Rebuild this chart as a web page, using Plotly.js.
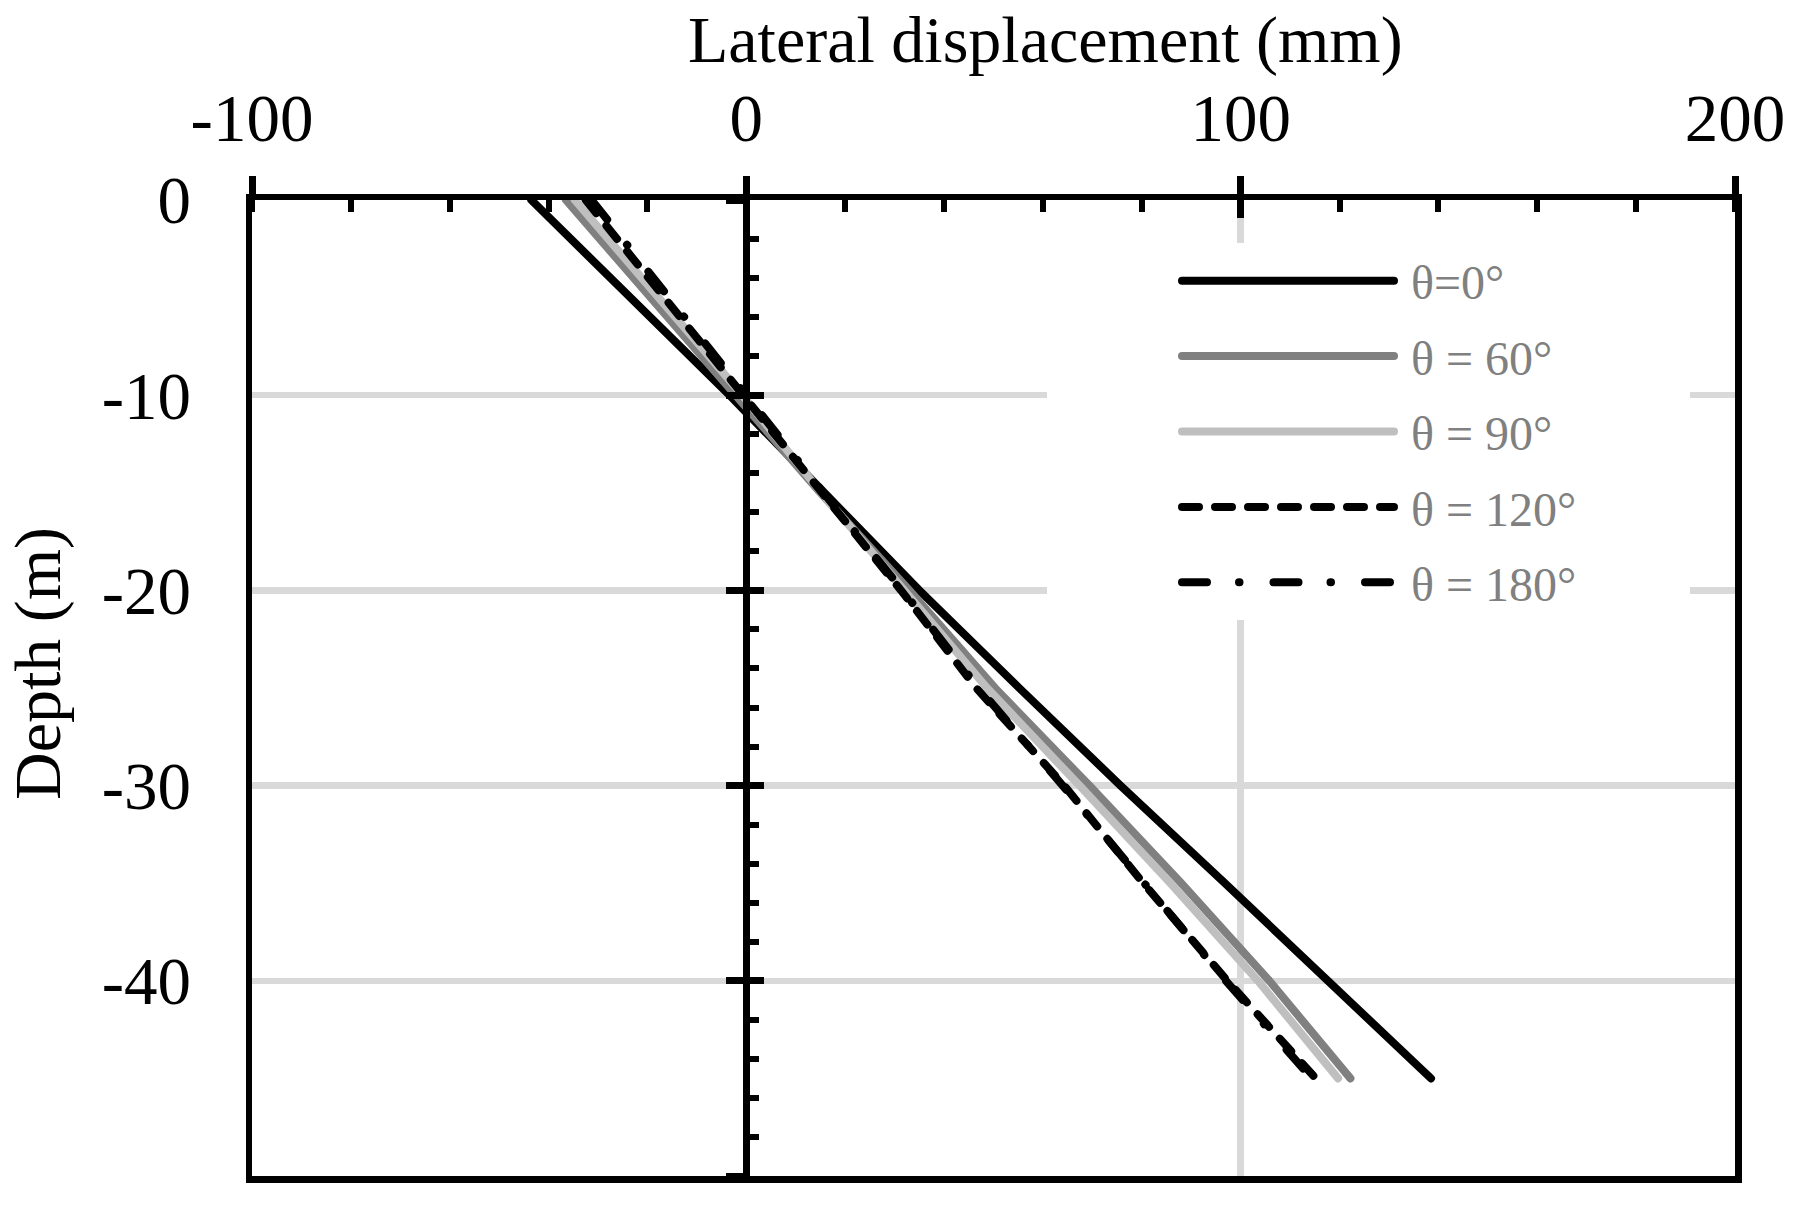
<!DOCTYPE html>
<html><head><meta charset="utf-8">
<script src="https://cdn.plot.ly/plotly-3.0.1.min.js"></script>
<style>
body{margin:0;background:#fff;}
#chart .scatterlayer .js-line, #chart .legend .js-line {stroke-linecap: round; stroke-linejoin: round;}
</style></head><body>
<div id="chart" style="width:1793px;height:1206px;"></div>
<script>
// Depth (m)
const depth = [0, -5, -10, -15, -20, -25, -30, -35, -40, -45];
// Lateral displacement (mm) for each angle
const disp0   = [-43.5, -23.2, -3.4, 15.8, 35.0, 55.2, 75.7, 96.8, 117.4, 138.5];
const disp60  = [-36.5, -19.3, -1.8, 15.0, 33.0, 50.3, 69.4, 88.0, 105.8, 122.2];
const disp90  = [-34.7, -17.9, -0.8, 15.2, 32.0, 48.7, 67.4, 85.8, 103.5, 119.7];
const disp120 = [-32.5, -16.4, -0.3, 15.3, 31.3, 46.5, 64.3, 80.3, 97.3, 115.2];
const disp180 = [-31.3, -15.8, 0.2, 15.6, 31.6, 47.0, 64.0, 80.6, 97.0, 114.4];
const names = ['θ=0°', 'θ = 60°', 'θ = 90°', 'θ = 120°', 'θ = 180°'];
const xTicks = [-100, 0, 100, 200];
const yTicks = [0, -10, -20, -30, -40, -50];

const FONT = 'Liberation Serif, Times New Roman, serif';
const W = 1793, H = 1206;
const ML = 252, MR = 58, MT = 200, MB = 30;
const PW = W - ML - MR, PH = H - MT - MB;
const px2x = p => (p - ML) / PW;
const px2y = p => (H - MB - p) / PH;
const NB = '\u00a0';

const series = [
  {x: disp0,   color: '#000000', dash: 'solid'},
  {x: disp60,  color: '#808080', dash: 'solid'},
  {x: disp90,  color: '#bfbfbf', dash: 'solid'},
  {x: disp120, color: '#000000', dash: '17px,16px'},
  {x: disp180, color: '#000000', dash: '25px,32px,0.5px,34px'}
];
const padRight = [0, 0, 0, 9, 9];
const traces = series.map((s, i) => ({
  type: 'scatter', mode: 'lines', x: s.x, y: depth,
  name: NB + names[i] + NB.repeat(padRight[i]),
  line: {color: s.color, width: 8, dash: s.dash},
  legendgroup: 'g' + i, hoverinfo: 'skip'
}));
// helper (empty) traces so the overlaid axes at x = 0 and the crossing ticks are drawn
const axisHelpers = [
  {xaxis: 'x', yaxis: 'y2'}, {xaxis: 'x', yaxis: 'y3'}, {xaxis: 'x2', yaxis: 'y'}
].map(a => ({type: 'scatter', mode: 'lines', x: [null], y: [null], xaxis: a.xaxis, yaxis: a.yaxis,
             showlegend: false, hoverinfo: 'skip', line: {width: 0}}));

const layout = {
  width: W, height: H,
  margin: {l: ML, r: MR, t: MT, b: MB, pad: 0},
  paper_bgcolor: '#ffffff', plot_bgcolor: '#ffffff',
  font: {family: FONT, size: 66, color: '#000000'},
  showlegend: true,
  xaxis: {
    range: [-100, 200], side: 'top', anchor: 'y',
    tickmode: 'array', tickvals: xTicks, ticktext: xTicks.map(String),
    ticks: 'outside', ticklen: 18, tickwidth: 7, tickcolor: '#000',
    showline: true, linewidth: 6.5, linecolor: '#000', mirror: true,
    showgrid: true, gridcolor: '#d9d9d9', gridwidth: 6.5, zeroline: false,
    tickfont: {size: 67, family: FONT, color: '#000'}, ticklabelstandoff: 8,
    minor: {dtick: 20, tick0: 0, ticks: 'inside', ticklen: 12, tickwidth: 6, tickcolor: '#000', showgrid: false},
    fixedrange: true
  },
  xaxis2: {
    overlaying: 'x', side: 'top', anchor: 'y', range: [-100, 200],
    tickmode: 'array', tickvals: xTicks,
    ticks: 'inside', ticklen: 18, tickwidth: 7, tickcolor: '#000',
    showticklabels: false, showgrid: false, zeroline: false, showline: false, fixedrange: true
  },
  yaxis: {
    range: [-50, 0], side: 'left', anchor: 'x',
    tickmode: 'array', tickvals: yTicks, ticktext: yTicks.map(String),
    ticks: '', showline: true, linewidth: 6.5, linecolor: '#000', mirror: true,
    showgrid: true, gridcolor: '#d9d9d9', gridwidth: 6.5, zeroline: false,
    tickfont: {size: 67, family: FONT, color: '#000'},
    ticklabelstandoff: 41, fixedrange: true
  },
  yaxis2: {
    overlaying: 'y', anchor: 'free', position: 1/3, side: 'left', range: [-50, 0],
    tickmode: 'array', tickvals: yTicks,
    ticks: 'outside', ticklen: 17, tickwidth: 7, tickcolor: '#000',
    showline: true, linewidth: 7, linecolor: '#000',
    showticklabels: false, showgrid: false, zeroline: false, fixedrange: true
  },
  yaxis3: {
    overlaying: 'y', anchor: 'free', position: 1/3, side: 'left', range: [-50, 0],
    tickmode: 'array', tickvals: yTicks,
    ticks: 'inside', ticklen: 17, tickwidth: 7, tickcolor: '#000',
    showline: false, showticklabels: false, showgrid: false, zeroline: false, fixedrange: true,
    minor: {dtick: 2, tick0: 0, ticks: 'inside', ticklen: 12, tickwidth: 6, tickcolor: '#000', showgrid: false}
  },
  legend: {
    x: px2x(1047), y: px2y(243), xref: 'paper', yref: 'paper',
    xanchor: 'left', yanchor: 'top',
    bgcolor: '#ffffff', bordercolor: '#ffffff', borderwidth: 0,
    font: {size: 48, family: FONT, color: '#808080'},
    title: {text: NB.repeat(10), side: 'left', font: {size: 48, family: FONT, color: '#808080'}},
    itemwidth: 212, tracegroupgap: 10
  },
  annotations: [
    {text: 'Lateral displacement (mm)', xref: 'paper', yref: 'paper',
     x: px2x(1045), y: px2y(40), xanchor: 'center', yanchor: 'middle',
     showarrow: false, font: {size: 66, family: FONT, color: '#000'}},
    {text: 'Depth (m)', xref: 'paper', yref: 'paper', textangle: -90,
     x: px2x(38), y: px2y(664), xanchor: 'center', yanchor: 'middle',
     showarrow: false, font: {size: 66, family: FONT, color: '#000'}}
  ]
};

Plotly.newPlot('chart', traces.concat(axisHelpers), layout, {staticPlot: true, displayModeBar: false});
</script>
</body></html>
